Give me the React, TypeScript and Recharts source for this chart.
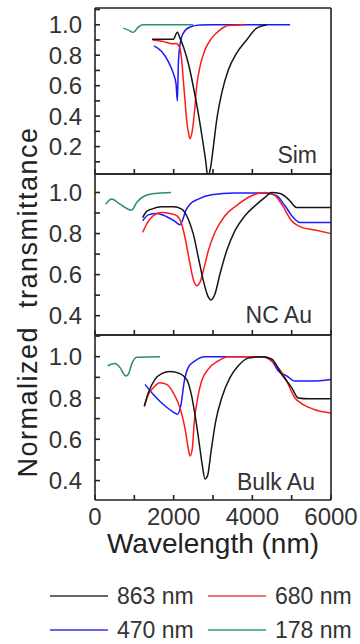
import { Line, LineChart, XAxis, YAxis } from "recharts";

// wavelength (nm) / normalized transmittance
const simBlackWl = [1450, 1700, 1990, 2093, 2161, 2245, 2372, 2500, 2627, 2737, 2813, 2870, 2940, 3008, 3093, 3220, 3389, 3601, 3855, 4110, 4366];
const simBlackT = [0.905, 0.905, 0.905, 0.95, 0.912, 0.857, 0.747, 0.593, 0.417, 0.24, 0.109, 0.0, 0.065, 0.197, 0.373, 0.549, 0.703, 0.813, 0.9, 0.978, 0.998];
const simRedWl = [1460, 1737, 1949, 2060, 2144, 2203, 2245, 2288, 2330, 2390, 2415, 2475, 2525, 2584, 2669, 2796, 2966, 3178, 3389, 3800];
const simRedT = [0.9, 0.89, 0.875, 0.877, 0.857, 0.769, 0.637, 0.505, 0.373, 0.274, 0.252, 0.307, 0.417, 0.593, 0.725, 0.835, 0.912, 0.967, 0.995, 1.0];
const simBlueWl = [1500, 1695, 1864, 1991, 2059, 2093, 2120, 2161, 2245, 2415, 2669, 3000, 4960];
const simBlueT = [0.861, 0.824, 0.758, 0.681, 0.615, 0.5, 0.75, 0.868, 0.945, 0.985, 0.998, 1.0, 1.0];
const simTealWl = [720, 850, 975, 1100, 1230, 1600, 2500];
const simTealT = [0.978, 0.965, 0.95, 0.985, 1.0, 1.0, 1.0];

const ncBlackWl = [1212, 1313, 1440, 1695, 1991, 2203, 2372, 2500, 2627, 2754, 2864, 2949, 3050, 3177, 3347, 3559, 3813, 4067, 4321, 4491, 4703, 4914, 5126, 6000];
const ncBlackT = [0.878, 0.908, 0.919, 0.93, 0.93, 0.919, 0.87, 0.797, 0.684, 0.571, 0.498, 0.477, 0.506, 0.603, 0.716, 0.814, 0.887, 0.935, 0.976, 1.0, 0.995, 0.968, 0.927, 0.927];
const ncRedWl = [1212, 1313, 1483, 1695, 1906, 2076, 2203, 2305, 2415, 2508, 2584, 2669, 2754, 2881, 3050, 3304, 3643, 3982, 4321, 4533, 4745, 4999, 5253, 5592, 6000];
const ncRedT = [0.806, 0.846, 0.887, 0.903, 0.898, 0.887, 0.846, 0.765, 0.652, 0.571, 0.546, 0.562, 0.619, 0.716, 0.806, 0.887, 0.943, 0.984, 1.0, 0.992, 0.943, 0.862, 0.83, 0.817, 0.8];
const ncBlueWl = [1212, 1356, 1567, 1822, 2034, 2161, 2220, 2305, 2415, 2627, 2966, 3559, 4321, 4618, 4830, 5041, 5211, 6000];
const ncBlueT = [0.862, 0.891, 0.898, 0.882, 0.859, 0.843, 0.862, 0.911, 0.943, 0.968, 0.989, 0.997, 0.998, 0.984, 0.935, 0.878, 0.854, 0.854];
const ncTealWl = [271, 424, 635, 932, 1059, 1271, 1525, 1932];
const ncTealT = [0.943, 0.968, 0.943, 0.914, 0.951, 0.984, 0.995, 1.0];

const bkBlackWl = [1254, 1356, 1525, 1695, 1906, 2161, 2330, 2440, 2542, 2644, 2728, 2796, 2864, 2949, 3067, 3220, 3432, 3643, 3898, 4237, 4491, 4745, 4999, 5168, 5423, 6000];
const bkBlackT = [0.76, 0.825, 0.89, 0.918, 0.928, 0.918, 0.89, 0.825, 0.719, 0.588, 0.474, 0.408, 0.425, 0.539, 0.686, 0.8, 0.899, 0.956, 0.993, 1.0, 0.989, 0.915, 0.85, 0.8, 0.796, 0.796];
const bkRedWl = [1254, 1339, 1483, 1652, 1822, 1991, 2161, 2288, 2372, 2415, 2474, 2525, 2610, 2711, 2881, 3135, 3389, 4321, 4575, 4830, 5084, 5296, 5592, 6000];
const bkRedT = [0.76, 0.809, 0.85, 0.874, 0.866, 0.825, 0.752, 0.653, 0.555, 0.519, 0.555, 0.686, 0.8, 0.882, 0.94, 0.98, 1.0, 1.0, 0.964, 0.899, 0.8, 0.768, 0.743, 0.727];
const bkBlueWl = [1271, 1483, 1695, 1906, 2101, 2186, 2271, 2372, 2542, 2796, 4237, 4491, 4660, 4872, 5084, 5507, 6000];
const bkBlueT = [0.866, 0.817, 0.776, 0.743, 0.722, 0.768, 0.882, 0.948, 0.98, 1.0, 1.0, 0.98, 0.931, 0.907, 0.882, 0.882, 0.89];
const bkTealWl = [322, 508, 635, 780, 847, 932, 1059, 1652];
const bkTealT = [0.956, 0.967, 0.948, 0.907, 0.915, 0.964, 0.997, 1.0];

const sizes = ["863 nm", "680 nm", "470 nm", "178 nm"];
const colors = ["#151515", "#ff1a1a", "#1a1aff", "#2a8c7c"];
const legendColors = ["#333333", "#ee4444", "#3333ee", "#2a9a8a"];

const xTicks = [0, 1000, 2000, 3000, 4000, 5000, 6000];
const xLabels = [0, 2000, 4000, 6000];

const FONT = "'Liberation Sans', Arial, sans-serif";
const FRAME = "#222";

const zip = (wl: number[], t: number[]) => wl.map((w, i) => ({ wl: w, t: t[i] }));
const blank = () => "";

type PanelProps = {
  top: number;
  plotH: number;
  domain: [number, number];
  ticks: number[];
  minor: number[];
  // order: black, red, blue, teal
  series: { wl: number; t: number }[][];
  showX?: boolean;
};

function Panel({ top, plotH, domain, ticks, minor, series, showX }: PanelProps) {
  const bottomPad = showX ? 60 : 2;
  const h = 2 + plotH + bottomPad;
  // all axes share the same fixed domain, so each series can hang off a
  // different axis pair; that keeps every axis "in use" so it draws ticks
  const drawOrder = [3, 2, 1, 0];
  const xIds = ["x", "top", showX ? "lab" : "x", "x"];
  const yIds = ["v", "tk", "r", "v"];
  return (
    <div style={{ position: "absolute", left: 0, top, width: 360, height: h }}>
      <LineChart
        width={360}
        height={h}
        margin={{ top: 2, right: 29, bottom: showX ? 0 : 2, left: 0 }}
        style={{ fontFamily: FONT }}
      >
        <XAxis
          xAxisId="x"
          type="number"
          dataKey="wl"
          domain={[0, 6000]}
          allowDataOverflow
          ticks={xTicks}
          interval={0}
          orientation="bottom"
          mirror
          tickFormatter={blank}
          tickSize={5}
          stroke={FRAME}
          strokeWidth={1.6}
        />
        <XAxis
          xAxisId="top"
          type="number"
          dataKey="wl"
          domain={[0, 6000]}
          allowDataOverflow
          orientation="top"
          mirror
          tick={false}
          tickLine={false}
          stroke={FRAME}
          strokeWidth={1.6}
        />
        {showX && (
          <XAxis
            xAxisId="lab"
            type="number"
            dataKey="wl"
            domain={[0, 6000]}
            allowDataOverflow
            ticks={xLabels}
            interval={0}
            height={60}
            tickLine={false}
            axisLine={false}
            tick={{ fontSize: 24, fill: "#333" }}
            label={{
              value: "Wavelength (nm)",
              position: "insideBottom",
              offset: 7,
              style: { fontSize: 28, fill: "#222", fontFamily: FONT },
            }}
          />
        )}
        <YAxis
          yAxisId="v"
          type="number"
          domain={domain}
          allowDataOverflow
          ticks={ticks}
          interval={0}
          width={95}
          tickLine={false}
          axisLine={false}
          tickMargin={7}
          tick={{ fontSize: 24, fill: "#333" }}
          tickFormatter={(v: number) => v.toFixed(1)}
        />
        <YAxis
          yAxisId="tk"
          type="number"
          domain={domain}
          allowDataOverflow
          ticks={minor}
          interval={0}
          mirror
          tickFormatter={blank}
          tickSize={5}
          stroke={FRAME}
          strokeWidth={1.6}
        />
        <YAxis
          yAxisId="r"
          type="number"
          domain={domain}
          allowDataOverflow
          orientation="right"
          mirror
          tick={false}
          tickLine={false}
          stroke={FRAME}
          strokeWidth={1.6}
        />
        {drawOrder.map((i) => (
          <Line
            key={i}
            xAxisId={xIds[i]}
            yAxisId={yIds[i]}
            data={series[i]}
            dataKey="t"
            type="monotone"
            stroke={colors[i]}
            strokeWidth={1.5}
            dot={false}
            isAnimationActive={false}
          />
        ))}
      </LineChart>
    </div>
  );
}

const panelLabel = (text: string, baseline: number, right: number) => (
  <div
    style={{
      position: "absolute",
      top: baseline - 19.5,
      right: 360 - right,
      fontSize: 23,
      lineHeight: "23px",
      color: "#333",
      fontFamily: FONT,
      whiteSpace: "nowrap",
    }}
  >
    {text}
  </div>
);

export default function App() {
  const tenths = (lo: number, hi: number) => {
    const out: number[] = [];
    for (let k = lo; k <= hi; k++) out.push(k / 10);
    return out;
  };
  return (
    <div
      style={{
        position: "absolute",
        left: 0,
        top: 0,
        width: 360,
        height: 644,
        background: "#fff",
        fontFamily: FONT,
        overflow: "hidden",
      }}
    >
      <Panel
        top={6}
        plotH={166}
        domain={[0.02, 1.11]}
        ticks={[0.2, 0.4, 0.6, 0.8, 1.0]}
        minor={tenths(1, 11)}
        series={[zip(simBlackWl, simBlackT), zip(simRedWl, simRedT), zip(simBlueWl, simBlueT), zip(simTealWl, simTealT)]}
      />
      <Panel
        top={172}
        plotH={161}
        domain={[0.306, 1.09]}
        ticks={[0.4, 0.6, 0.8, 1.0]}
        minor={tenths(4, 10)}
        series={[zip(ncBlackWl, ncBlackT), zip(ncRedWl, ncRedT), zip(ncBlueWl, ncBlueT), zip(ncTealWl, ncTealT)]}
      />
      <Panel
        top={333}
        plotH={165}
        domain={[0.306, 1.105]}
        ticks={[0.4, 0.6, 0.8, 1.0]}
        minor={tenths(4, 11)}
        series={[zip(bkBlackWl, bkBlackT), zip(bkRedWl, bkRedT), zip(bkBlueWl, bkBlueT), zip(bkTealWl, bkTealT)]}
        showX
      />
      {panelLabel("Sim", 163, 317)}
      {panelLabel("NC Au", 323, 312)}
      {panelLabel("Bulk Au", 490, 315)}
      <div
        style={{
          position: "absolute",
          left: 28 - 200,
          top: 302 - 16,
          width: 400,
          height: 32,
          lineHeight: "32px",
          textAlign: "center",
          transform: "rotate(-90deg)",
          fontSize: 27,
          letterSpacing: 1.5,
          color: "#222",
          whiteSpace: "pre",
        }}
      >
        {"Normalized  transmittance"}
      </div>
      <div
        style={{
          position: "absolute",
          left: 50,
          top: 582,
          display: "grid",
          gridTemplateColumns: "158px 158px",
          rowGap: 6,
        }}
      >
        {sizes.map((s, i) => (
          <div key={s} style={{ display: "flex", alignItems: "center", height: 28 }}>
            <svg width={58} height={4} style={{ marginRight: 9 }}>
              <line x1={0} y1={2} x2={58} y2={2} stroke={legendColors[i]} strokeWidth={1.6} />
            </svg>
            <span style={{ fontSize: 23, lineHeight: "23px", color: "#333", whiteSpace: "nowrap" }}>{s}</span>
          </div>
        ))}
      </div>
    </div>
  );
}
